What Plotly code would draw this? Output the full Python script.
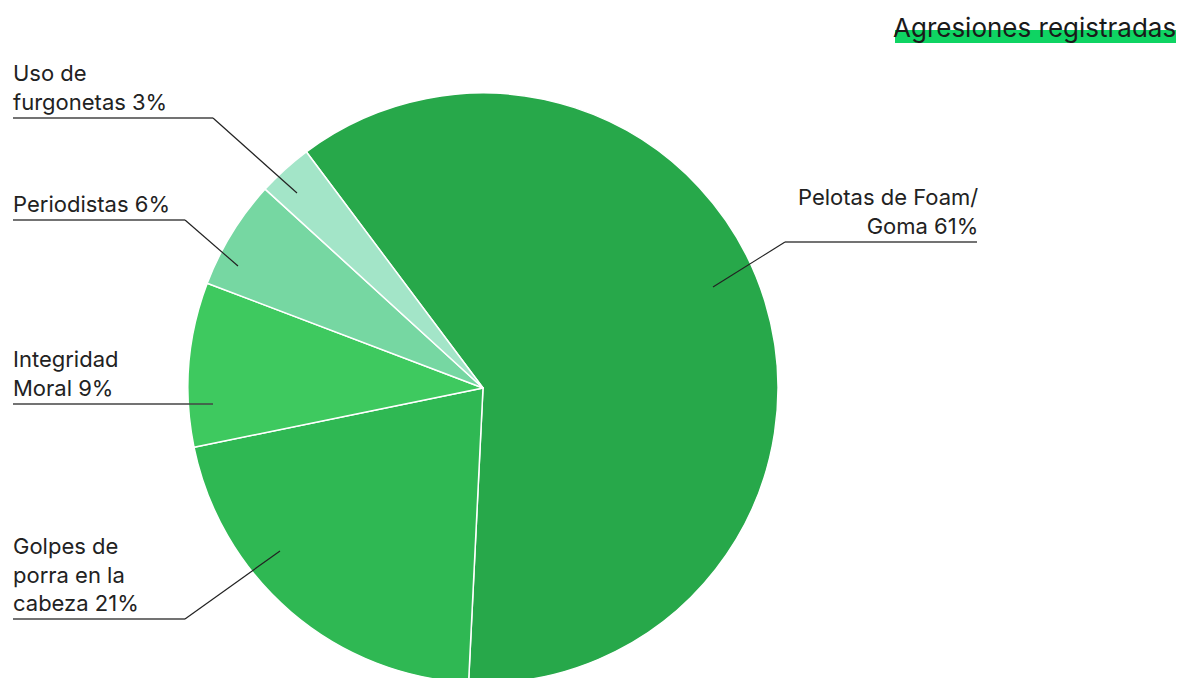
import plotly.graph_objects as go

W, H = 1179, 690  # window shows top 678 px; pie is cut at the bottom like the reference

categories = ["Pelotas de Foam/<br>Goma", "Golpes de<br>porra en la<br>cabeza", "Integridad<br>Moral", "Periodistas", "Uso de<br>furgonetas"]
values = [61, 21, 9, 6, 3]
colors = ["#27a84a", "#2fb853", "#3ec95f", "#76d7a2", "#a3e5c8"]
title_text = "Agresiones registradas"

# layout config (pixel positions of label anchors, underline ends, text alignment)
label_cfg = [
    # (slice point, elbow, underline end, text x, anchor)
    ((713, 287), (785, 242), (977, 242), 980, "right"),
    ((280, 551), (185, 619), (13, 619), 11, "left"),
    ((213, 404), (213, 404), (13, 404), 11, "left"),
    ((238, 266), (185, 220), (13, 220), 11, "left"),
    ((297, 193), (213, 118), (13, 118), 11, "left"),
]

FONT = "Inter"
CX, CY, R = 483, 388, 295


def px(x):
    return x / W


def py(y):
    return 1 - y / H


fig = go.Figure()
fig.add_trace(go.Pie(
    labels=[c.replace("<br>", " ") for c in categories],
    values=values,
    sort=False,
    direction="clockwise",
    rotation=-36.8,
    marker=dict(colors=colors, line=dict(color="#ffffff", width=1.5)),
    textinfo="none",
    hoverinfo="label+percent",
    domain=dict(x=[px(CX - R), px(CX + R)], y=[py(CY + R), py(CY - R)]),
    showlegend=False,
))

shapes = []
annotations = []
for (cat, val, cfg) in zip(categories, values, label_cfg):
    p0, p1, p2, tx, anchor = cfg
    shapes.append(dict(type="line", xref="paper", yref="paper",
                       x0=px(p0[0]), y0=py(p0[1]), x1=px(p1[0]), y1=py(p1[1]),
                       line=dict(color="#222222", width=1.2)))
    shapes.append(dict(type="line", xref="paper", yref="paper",
                       x0=px(p1[0]), y0=py(p1[1]), x1=px(p2[0]), y1=py(p2[1]),
                       line=dict(color="#444444", width=1.6)))
    annotations.append(dict(
        text=f"{cat} {val}%", xref="paper", yref="paper",
        x=px(tx), y=py(p2[1] - 1), xanchor=anchor, yanchor="bottom",
        align=anchor, showarrow=False,
        font=dict(family=FONT, size=22, color="#222222"),
    ))

# title highlight
shapes.append(dict(type="rect", xref="paper", yref="paper",
                   x0=px(895), x1=px(1176), y0=py(43), y1=py(30),
                   fillcolor="#0fd463", line=dict(width=0), layer="below"))
annotations.append(dict(
    text=title_text, xref="paper", yref="paper",
    x=px(1178), y=py(45), xanchor="right", yanchor="bottom",
    showarrow=False, font=dict(family=FONT, size=26, color="#1a1a1a"),
))

fig.update_layout(
    width=W, height=H,
    margin=dict(l=0, r=0, t=0, b=0),
    paper_bgcolor="#ffffff", plot_bgcolor="#ffffff",
    shapes=shapes, annotations=annotations,
    showlegend=False,
)

fig.write_html(
    "out.html",
    config={"displayModeBar": False},
    post_script="document.body.style.margin='0';document.body.style.overflow='hidden';",
)
